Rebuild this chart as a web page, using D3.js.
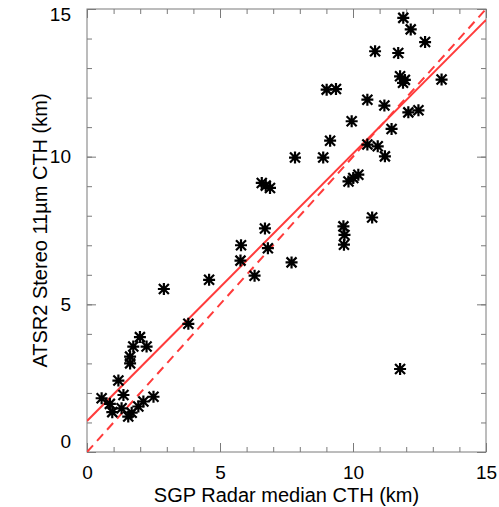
<!DOCTYPE html>
<html>
<head>
<meta charset="utf-8">
<script src="https://cdn.jsdelivr.net/npm/d3@7"></script>
<style>
  body { margin: 0; background: #fff; }
  text { font-family: "Liberation Sans", Arial, sans-serif; }
</style>
</head>
<body>
<div id="canvas"></div>
<script>
"use strict"

/*** DATA ***/
// SGP radar median cloud top height (km)
let radarCth = [0.55, 0.86, 1.18, 1.37, 1.30, 1.68, 2.12, 1.93, 2.50, 1.62,
    1.62, 1.74, 1.99, 2.24, 2.89, 3.81, 4.59, 5.79, 5.77, 6.30,
    6.80, 6.69, 6.57, 6.88, 6.72, 7.69, 7.82, 8.88, 9.01, 9.36,
    9.14, 9.95, 9.64, 9.68, 9.66, 9.83, 10.01, 10.20, 10.54, 10.54,
    10.93, 10.72, 10.83, 11.18, 11.20, 11.45, 11.70, 11.77, 11.95, 11.88,
    11.89, 12.17, 12.71, 12.08, 12.46, 13.33, 11.77, 0.95, 1.55]
// ATSR2 stereo 11um cloud top height (km)
let stereoCth = [1.82, 1.63, 2.42, 1.93, 1.48, 1.33, 1.71, 1.54, 1.87, 3.00,
    3.23, 3.57, 3.89, 3.57, 5.52, 4.34, 5.83, 7.00, 6.48, 5.97,
    6.90, 7.57, 9.11, 8.94, 9.02, 6.42, 9.97, 9.97, 12.27, 12.29,
    10.54, 11.20, 7.64, 7.35, 7.02, 9.16, 9.28, 9.39, 11.93, 10.41,
    10.35, 7.94, 13.57, 11.73, 10.01, 10.94, 13.51, 12.72, 12.60, 12.50,
    14.70, 14.31, 13.88, 11.50, 11.57, 12.61, 2.81, 1.35, 1.20]

let majorTicks = [0, 5, 10, 15]
let minorTicks = d3.range(0, 16, 1)

// fitted regression line and 1:1 line (km)
let fitLine = [[0, 1.05], [15, 14.63]]
let oneToOne = [[0, 0], [15, 15]]

/*** CANVAS SETUP ***/
let svgWidth = 499
let svgHeight = 507
let margin = { top: 9, right: 13, bottom: 55, left: 87 }

let svg = d3.select("#canvas")
    .append("svg")
    .attr("width", svgWidth)
    .attr("height", svgHeight)

let xScale = d3.scaleLinear()
    .domain([0, 15])
    .range([margin.left, svgWidth - margin.right])

let yScale = d3.scaleLinear()
    .domain([0, 15])
    .range([svgHeight - margin.bottom, margin.top])

let plotW = xScale(15) - xScale(0)
let plotH = yScale(0) - yScale(15)

svg.append("clipPath")
    .attr("id", "plotClip")
    .append("rect")
    .attr("x", xScale(0))
    .attr("y", yScale(15))
    .attr("width", plotW)
    .attr("height", plotH)

/*** AXES (ticks point inward on all four sides) ***/
let axisColor = "#7a7a7a"

function styleAxis(g) {
    g.select(".domain").remove()
    g.selectAll("line").attr("stroke", axisColor).attr("stroke-width", 1)
}

// minor ticks
svg.append("g").attr("transform", `translate(0,${yScale(0)})`)
    .call(d3.axisBottom(xScale).tickValues(minorTicks).tickSize(-5).tickFormat(""))
    .call(styleAxis)
svg.append("g").attr("transform", `translate(0,${yScale(15)})`)
    .call(d3.axisTop(xScale).tickValues(minorTicks).tickSize(-5).tickFormat(""))
    .call(styleAxis)
svg.append("g").attr("transform", `translate(${xScale(0)},0)`)
    .call(d3.axisLeft(yScale).tickValues(minorTicks).tickSize(-5).tickFormat(""))
    .call(styleAxis)
svg.append("g").attr("transform", `translate(${xScale(15)},0)`)
    .call(d3.axisRight(yScale).tickValues(minorTicks).tickSize(-5).tickFormat(""))
    .call(styleAxis)

// major ticks with labels on bottom and left
let xAxis = svg.append("g").attr("transform", `translate(0,${yScale(0)})`)
    .call(d3.axisBottom(xScale).tickValues(majorTicks).tickSize(-9).tickPadding(14))
    .call(styleAxis)
xAxis.selectAll("text")
    .attr("fill", "#000")
    .attr("font-size", "19px")

svg.append("g").attr("transform", `translate(0,${yScale(15)})`)
    .call(d3.axisTop(xScale).tickValues(majorTicks).tickSize(-9).tickFormat(""))
    .call(styleAxis)

let yAxis = svg.append("g").attr("transform", `translate(${xScale(0)},0)`)
    .call(d3.axisLeft(yScale).tickValues(majorTicks).tickSize(-9).tickPadding(16))
    .call(styleAxis)
yAxis.selectAll("text")
    .attr("fill", "#000")
    .attr("font-size", "19px")
    .attr("dy", function (d) {            // end labels sit inside the frame
        if (d === 0) return "-0.25em"
        if (d === 15) return "0.6em"
        return "0.32em"
    })

svg.append("g").attr("transform", `translate(${xScale(15)},0)`)
    .call(d3.axisRight(yScale).tickValues(majorTicks).tickSize(-9).tickFormat(""))
    .call(styleAxis)

// frame
svg.append("rect")
    .attr("x", xScale(0))
    .attr("y", yScale(15))
    .attr("width", plotW)
    .attr("height", plotH)
    .attr("fill", "none")
    .attr("stroke", axisColor)
    .attr("stroke-width", 1)

/*** AXIS TITLES ***/
svg.append("text")
    .attr("x", (xScale(0) + xScale(15)) / 2)
    .attr("y", 502)
    .attr("text-anchor", "middle")
    .attr("font-size", "20px")
    .attr("fill", "#000")
    .text("SGP Radar median CTH (km)")

svg.append("text")
    .attr("transform", `translate(47,${(yScale(0) + yScale(15)) / 2}) rotate(-90)`)
    .attr("text-anchor", "middle")
    .attr("font-size", "20px")
    .attr("fill", "#000")
    .text("ATSR2 Stereo 11\u00b5m CTH (km)")

/*** LINES ***/
let line = d3.line()
    .x(function (d) { return xScale(d[0]) })
    .y(function (d) { return yScale(d[1]) })

let plot = svg.append("g").attr("clip-path", "url(#plotClip)")

plot.append("path")
    .attr("d", line(oneToOne))
    .attr("fill", "none")
    .attr("stroke", "#ff3b3b")
    .attr("stroke-width", 2)
    .attr("stroke-dasharray", "9,6")

plot.append("path")
    .attr("d", line(fitLine))
    .attr("fill", "none")
    .attr("stroke", "#ff3b3b")
    .attr("stroke-width", 2)

/*** ASTERISK MARKERS ***/
let starPath = "M-6,0L6,0M0,-6L0,6M-5,-5L5,5M-5,5L5,-5"

let points = radarCth.map(function (x, i) { return { x: x, y: stereoCth[i] } })

svg.append("g")
    .selectAll("path")
    .data(points)
    .join("path")
    .attr("transform", function (d) {
        return `translate(${xScale(d.x)},${yScale(d.y)})`
    })
    .attr("d", starPath)
    .attr("fill", "none")
    .attr("stroke", "#000")
    .attr("stroke-width", 2.2)
</script>
</body>
</html>
